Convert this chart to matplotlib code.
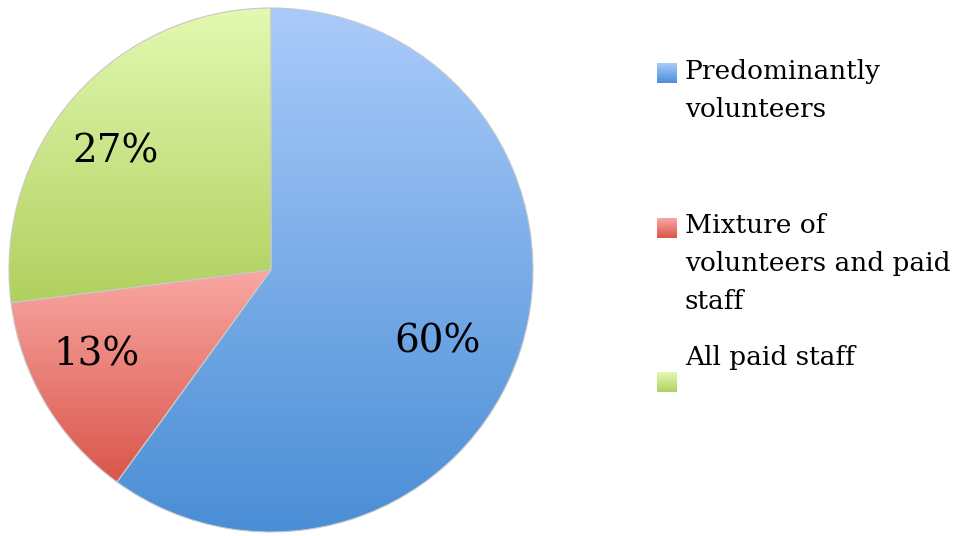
import numpy as np
import matplotlib
matplotlib.use("Agg")
import matplotlib.pyplot as plt
from matplotlib.colors import LinearSegmentedColormap

labels = ['Predominantly\nvolunteers', 'Mixture of\nvolunteers and paid\nstaff', 'All paid staff']
values = [60, 13, 27]
# gradient (top, bottom) for each slice
grad_top = ['#aacbfa', '#f9a7a2', '#e2f9b1']
grad_bottom = ['#4a8ed6', '#d9564b', '#b0d05e']
# where the percentage labels sit (fraction of radius, data coords)
label_pos = [(0.634, -0.275), (-0.668, -0.324), (-0.592, 0.450)]

plt.rcParams['font.family'] = ['DejaVu Serif']

W, H = 959, 536
fig = plt.figure(figsize=(W / 100, H / 100), dpi=100)

# pie axes: centre (271, 270), radius 262 px
cx, cy, r = 271, 270, 262
ax = fig.add_axes([(cx - r) / W, 1 - (cy + r) / H, 2 * r / W, 2 * r / H])

wedges, texts, autotexts = ax.pie(
    values, startangle=90, counterclock=False, radius=1,
    autopct='%d%%', pctdistance=0.72,
    wedgeprops=dict(edgecolor='#c8c8c8', linewidth=0.8),
    textprops=dict(fontsize=28, color='black'))
for t in texts:
    t.set_visible(False)
for t, pos in zip(autotexts, label_pos):
    t.set_position(pos)

grad = np.linspace(0, 1, 256).reshape(-1, 1)
for w, top, bot in zip(wedges, grad_top, grad_bottom):
    cmap = LinearSegmentedColormap.from_list('g', [top, bot])
    ext = w.get_path().get_extents()
    im = ax.imshow(grad, cmap=cmap, aspect='auto',
                   extent=[ext.x0, ext.x1, ext.y0, ext.y1], origin='upper', zorder=0.5)
    im.set_clip_path(w)
    w.set_facecolor('none')
    w.set_zorder(1)

ax.set_xlim(-1, 1)
ax.set_ylim(-1, 1)
ax.set_aspect('equal')
ax.axis('off')

# legend drawn by hand to mimic the spacing of the original
marker_y = [73, 228, 382]
text_y = [59, 213, 345]
for lab, top, bot, my, ty in zip(labels, grad_top, grad_bottom, marker_y, text_y):
    cmap = LinearSegmentedColormap.from_list('g', [top, bot])
    sq = fig.add_axes([657 / W, 1 - (my + 10) / H, 20 / W, 20 / H])
    sq.imshow(grad, cmap=cmap, aspect='auto')
    sq.axis('off')
    fig.text(685 / W, 1 - ty / H, lab, fontsize=19, va='top', ha='left',
             linespacing=1.64)

fig.savefig('out.png', dpi=100)
